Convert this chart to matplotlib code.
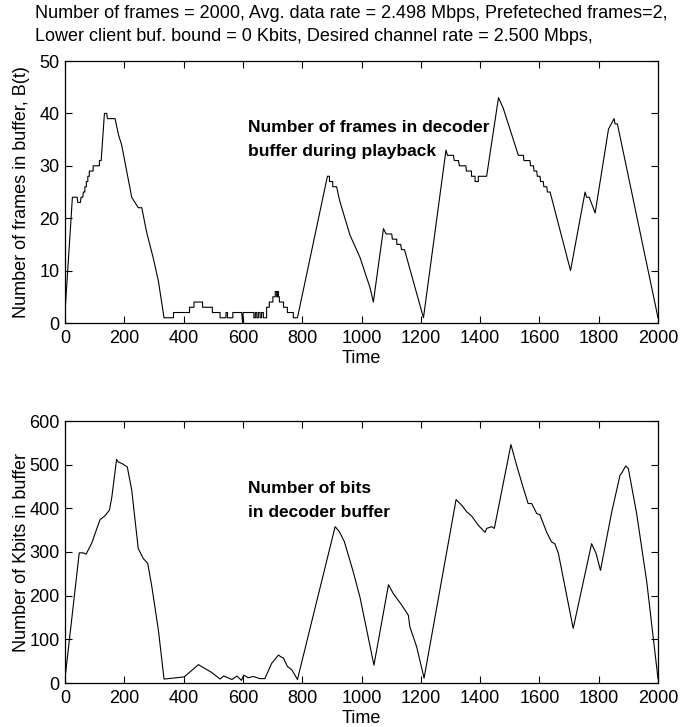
import matplotlib
matplotlib.use('Agg')
import matplotlib.pyplot as plt

plt.rcParams['font.family'] = ['Liberation Sans', 'DejaVu Sans']

# ── Data: frames in decoder buffer (top panel) ───────────────────────────────
frame_t = [0, 25, 41, 43, 52, 54, 60, 62, 67, 67, 72, 72, 77, 77, 82, 82, 95, 95,
           116, 116, 122, 133, 141, 143, 169, 180, 191, 225, 236, 247, 259, 275,
           298, 315, 334, 366, 366, 420, 420, 435, 435, 464, 464, 497, 497, 523,
           523, 543, 543, 548, 548, 566, 566, 596, 599, 601, 637, 637, 642, 642,
           647, 647, 652, 652, 658, 658, 663, 663, 669, 669, 680, 680, 689, 689,
           701, 701, 709, 709, 714, 714, 717, 717, 720, 720, 723, 723, 737, 737,
           750, 750, 770, 770, 782, 784, 885, 892, 892, 903, 903, 916, 927, 961,
           995, 1029, 1040, 1074, 1083, 1102, 1104, 1119, 1119, 1132, 1135, 1145,
           1175, 1209, 1285, 1290, 1310, 1313, 1327, 1330, 1352, 1354, 1371, 1371,
           1383, 1383, 1394, 1394, 1422, 1462, 1478, 1512, 1529, 1546, 1548, 1568,
           1570, 1580, 1582, 1591, 1593, 1602, 1604, 1613, 1615, 1625, 1627, 1636,
           1705, 1754, 1759, 1768, 1788, 1833, 1852, 1855, 1863, 2000]
frame_b = [2, 24, 24, 23, 23, 24, 24, 25, 25, 26, 26, 27, 27, 28, 28, 29, 29, 30,
           30, 31, 31, 40, 40, 39, 39, 36, 34, 24, 23, 22, 22, 17.4,
           12.3, 8, 1, 1, 2, 2, 3, 3, 4, 4, 3, 3, 2, 2,
           1, 1, 2, 2, 1, 1, 2, 2, 0, 2, 2, 1, 1, 2,
           2, 1, 1, 2, 2, 1, 1, 2, 2, 1, 1, 3, 3, 4,
           4, 5, 5, 6, 6, 5, 5, 6, 6, 5, 5, 4, 4, 3,
           3, 2, 2, 1, 1, 1, 28, 28, 27, 27, 26, 26, 23.2, 16.8,
           12.5, 6.7, 4, 18, 17, 17, 16, 16, 15, 15, 14, 14,
           7.9, 1, 33, 32, 32, 31, 31, 30, 30, 29, 29, 28,
           28, 27, 27, 28, 28, 43, 41, 35, 32, 32, 31, 31,
           30, 30, 29, 29, 28, 28, 27, 27, 26, 26, 25, 25,
           10, 25, 24, 24, 21, 37, 39, 38, 38, 1]

# ── Data: Kbits in decoder buffer (bottom panel) ─────────────────────────────
kbit_t = [0, 48, 62, 71, 90, 118, 135, 150, 158, 174, 180, 191, 210, 225, 247,
          264, 279, 293, 315, 334, 402, 450, 470, 495, 523, 535, 546, 563, 580,
          595, 603, 618, 635, 657, 674, 697, 720, 728, 737, 750, 765, 784, 911,
          925, 942, 972, 995, 1042, 1091, 1107, 1136, 1158, 1163, 1186, 1211,
          1319, 1338, 1355, 1372, 1394, 1417, 1422, 1439, 1448, 1504, 1523,
          1546, 1562, 1574, 1591, 1602, 1624, 1641, 1652, 1664, 1714, 1776,
          1791, 1806, 1844, 1872, 1877, 1891, 1900, 1928, 1962, 2000]
kbit_v = [10, 298, 298, 295, 320, 374, 383, 396, 426, 512, 506, 503, 495, 442, 308,
          285, 274, 220, 121, 9, 14, 42, 34, 24, 9, 16, 13, 8, 16,
          6, 18, 12, 15, 10, 10, 45, 64, 60, 57, 38, 30, 8, 358,
          347, 324, 255, 196, 41, 225, 205, 178, 155, 129, 83, 11,
          420, 407, 392, 382, 361, 345, 354, 358, 354, 546, 499,
          446, 411, 411, 388, 385, 346, 323, 319, 297, 125, 319,
          297, 258, 392, 476, 480, 497, 491, 388, 232, 10]

title_lines = ("Number of frames = 2000, Avg. data rate = 2.498 Mbps, Prefeteched frames=2,\n"
               "Lower client buf. bound = 0 Kbits, Desired channel rate = 2.500 Mbps,")

FS = 13


def style_ax(ax, ymax, ystep):
    ax.set_xlim(0, 2000)
    ax.set_ylim(0, ymax)
    ax.set_xticks(range(0, 2001, 200))
    ax.set_yticks(range(0, ymax + 1, ystep))
    ax.tick_params(direction='in', top=True, right=True, length=5,
                   width=0.8, labelsize=FS)
    ax.tick_params(axis='x', pad=5)
    ax.tick_params(axis='y', pad=4)
    for sp in ax.spines.values():
        sp.set_linewidth(0.9)
    ax.set_xlabel('Time', fontsize=FS, labelpad=2)
    ax.yaxis.set_label_coords(-43 / 593, 0.5)


fig = plt.figure(figsize=(6.8, 7.27), dpi=100)
ax1 = fig.add_axes([65 / 680, 1 - 323 / 727, 593 / 680, 262 / 727])
ax2 = fig.add_axes([65 / 680, 1 - 683 / 727, 593 / 680, 262 / 727])

ax1.plot(frame_t, frame_b, color='black', lw=0.8)
ax1.set_ylabel('Number of frames in buffer, B(t)', fontsize=FS, va='center')
style_ax(ax1, 50, 10)
ax1.text(617, 35, 'Number of frames in decoder\nbuffer during playback',
         fontsize=12.5, fontweight='bold', ha='left', va='center', linespacing=1.8)

ax2.plot(kbit_t, kbit_v, color='black', lw=0.8)
ax2.set_ylabel('Number of Kbits in buffer', fontsize=FS, va='center')
style_ax(ax2, 600, 100)
ax2.text(617, 418, 'Number of bits\nin decoder buffer',
         fontsize=12.5, fontweight='bold', ha='left', va='center', linespacing=1.8)

fig.text(35 / 680, 1 - 25 / 727, title_lines, fontsize=FS, ha='left',
         va='center', linespacing=1.4)

fig.savefig('out.png', dpi=100)
